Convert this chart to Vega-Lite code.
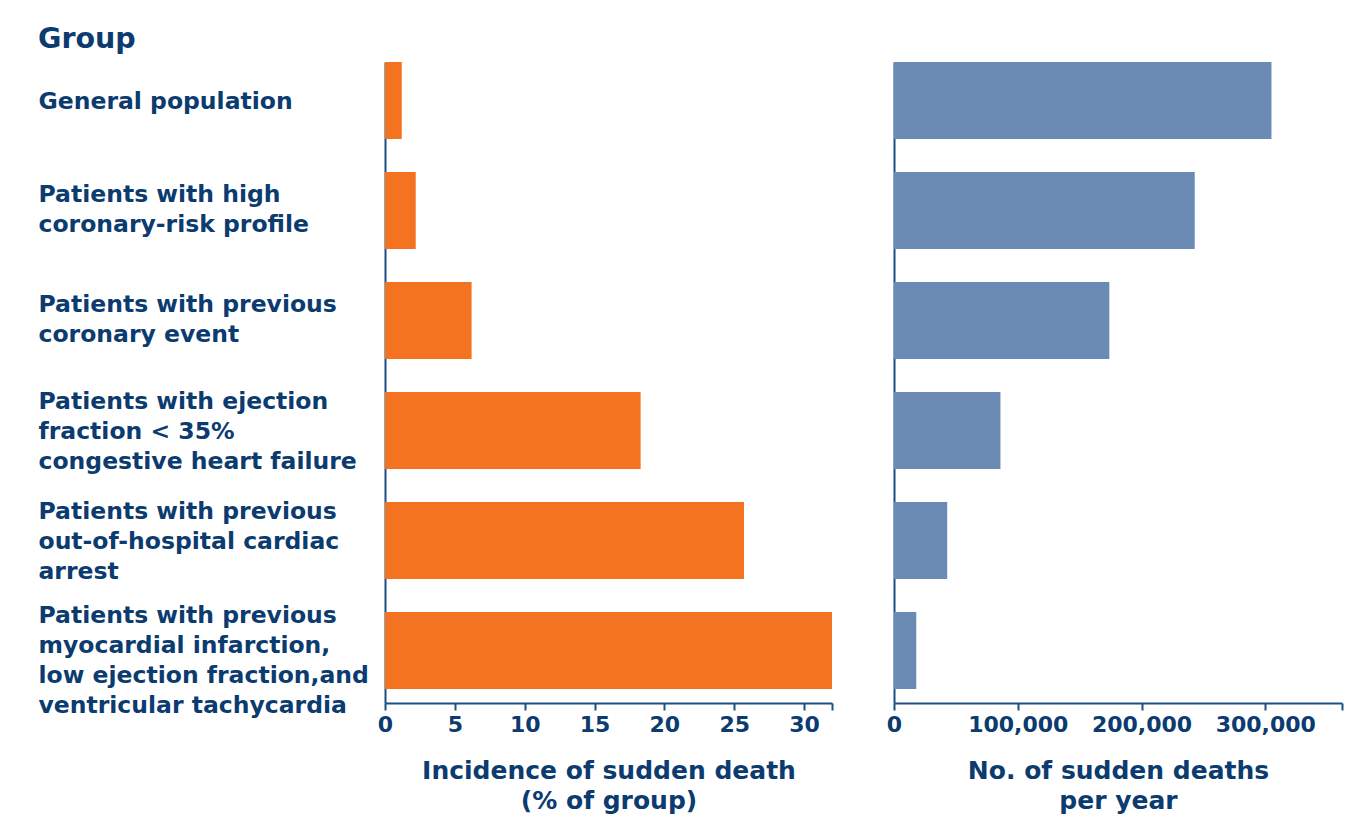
{
  "$schema": "https://vega.github.io/schema/vega-lite/v6.json",
  "background": "white",
  "padding": {"left": 38, "top": 24, "right": 10, "bottom": 10},
  "title": {
    "text": "Group",
    "anchor": "start",
    "frame": "bounds",
    "font": "DejaVu Sans",
    "fontSize": 28.5,
    "fontWeight": "bold",
    "color": "#0b3b6f",
    "offset": 9
  },
  "data": {
    "values": [
      {"group": "General population", "incidence": 1.2, "deaths": 305000},
      {"group": "Patients with high|coronary-risk profile", "incidence": 2.2, "deaths": 243000},
      {"group": "Patients with previous|coronary event", "incidence": 6.2, "deaths": 174000},
      {"group": "Patients with ejection|fraction < 35%|congestive heart failure", "incidence": 18.3, "deaths": 86000},
      {"group": "Patients with previous|out-of-hospital cardiac|arrest", "incidence": 25.7, "deaths": 43000},
      {"group": "Patients with previous|myocardial infarction,|low ejection fraction,and|ventricular tachycardia", "incidence": 32, "deaths": 18000}
    ]
  },
  "spacing": 62,
  "bounds": "flush",
  "config": {
    "view": {"stroke": null},
    "axis": {
      "labelFont": "DejaVu Sans",
      "labelFontWeight": "bold",
      "labelColor": "#0b3b6f",
      "titleFont": "DejaVu Sans",
      "titleFontWeight": "bold",
      "titleColor": "#0b3b6f",
      "domainColor": "#1d4f82",
      "domainWidth": 2,
      "tickColor": "#1d4f82",
      "tickWidth": 2,
      "grid": false
    }
  },
  "hconcat": [
    {
      "width": 447,
      "height": 641,
      "mark": {"type": "bar", "color": "#f47321"},
      "encoding": {
        "y": {
          "field": "group",
          "type": "nominal",
          "sort": null,
          "scale": {"paddingInner": 0.3, "paddingOuter": 0.064, "align": 0},
          "axis": {
            "title": null,
            "labelExpr": "split(datum.label, '|')",
            "labelAlign": "left",
            "labelBaseline": "middle",
            "labelPadding": 347,
            "labelLimit": 400,
            "labelFontSize": 23.5,
            "labelLineHeight": 30,
            "labelOffset": {
              "condition": [
                {"test": "length(split(datum.value, '|')) == 2", "value": -15},
                {"test": "length(split(datum.value, '|')) == 3", "value": -28},
                {"test": "length(split(datum.value, '|')) == 4", "value": -34}
              ],
              "value": 2
            },
            "ticks": false
          }
        },
        "x": {
          "field": "incidence",
          "type": "quantitative",
          "scale": {"domain": [0, 32], "nice": false},
          "axis": {
            "values": [0, 5, 10, 15, 20, 25, 30, 32],
            "labelExpr": "datum.value == 32 ? '' : format(datum.value, 'd')",
            "labelFlush": false,
            "labelFontSize": 22,
            "labelPadding": 4,
            "tickSize": 7,
            "title": ["Incidence of sudden death", "(% of group)"],
            "titleFontSize": 25,
            "titleLineHeight": 30,
            "titlePadding": 23
          }
        }
      }
    },
    {
      "width": 448,
      "height": 641,
      "mark": {"type": "bar", "color": "#6b8ab4"},
      "encoding": {
        "y": {
          "field": "group",
          "type": "nominal",
          "sort": null,
          "scale": {"paddingInner": 0.3, "paddingOuter": 0.064, "align": 0},
          "axis": {"title": null, "labels": false, "ticks": false}
        },
        "x": {
          "field": "deaths",
          "type": "quantitative",
          "scale": {"domain": [0, 362000], "nice": false},
          "axis": {
            "values": [0, 100000, 200000, 300000, 362000],
            "labelExpr": "datum.value == 362000 ? '' : format(datum.value, ',')",
            "labelFlush": false,
            "labelFontSize": 22,
            "labelPadding": 4,
            "tickSize": 7,
            "title": ["No. of sudden deaths", "per year"],
            "titleFontSize": 25,
            "titleLineHeight": 30,
            "titlePadding": 23
          }
        }
      }
    }
  ]
}
